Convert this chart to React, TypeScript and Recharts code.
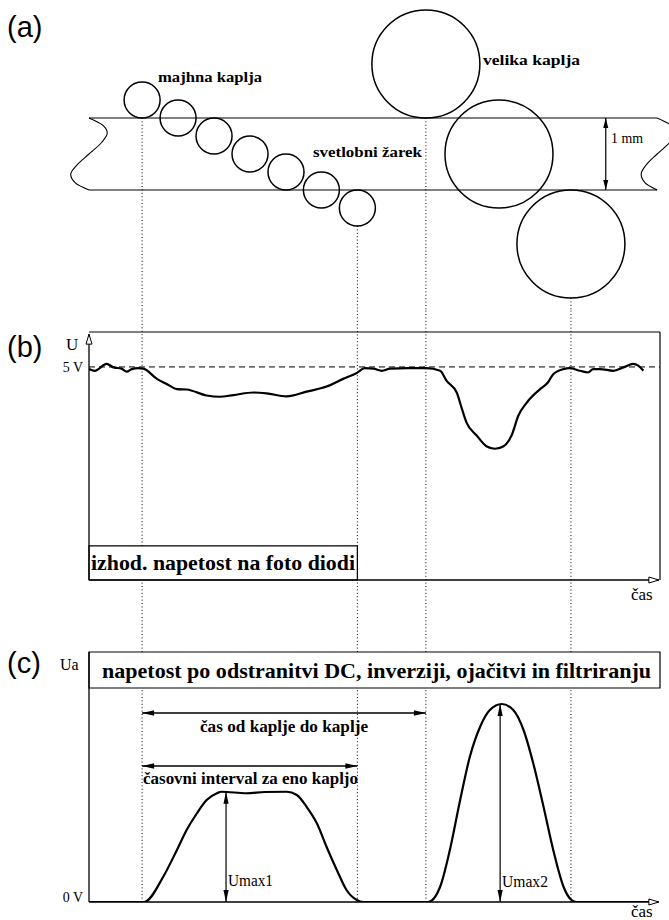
import React from "react";
import {
  ComposedChart,
  Line,
  Scatter,
  XAxis,
  YAxis,
  ReferenceLine,
  ReferenceArea,
} from "recharts";

const W = 669;
const PLOT_L = 89;
const PLOT_R = 9;
const PX_PER_T = (W - PLOT_L - PLOT_R) / 100;

// (a) drops: x = time units (0..100), y = mm across the light beam (0 = lower edge)
const smallDropT = [9.3, 15.6, 21.9, 28.2, 34.5, 40.7, 47.0];
const smallDropY = [1.25, 1.0, 0.75, 0.5, 0.25, 0, -0.25];
const bigDropT = [59.0, 71.8, 84.4];
const bigDropY = [1.75, 0.5, -0.75];
const SMALL_R = 0.25;
const BIG_R = 0.75;
const beamLeftT = [0, 2.4, 3.2, 2.2, 0, -2.2, -3.2, -2.4, 0];
const beamRightT = [99.5, 101.9, 102.7, 101.7, 99.5, 97.5, 96.7, 97.4, 99.5];
const beamEndY = [1, 0.9, 0.79, 0.66, 0.5, 0.34, 0.22, 0.1, 0];
const BEAM_END = 99.5;

// dotted marks: a drop touching / leaving the beam
const dropT = [9.3, 47.0, 59.0, 84.4];
const dropBottom = [1.0, -0.5, 1.0, -1.5];

// (b) photodiode output (V)
const diodeT = [0, 1.0, 3.1, 4.3, 5.7, 6.6, 7.5, 8.6, 9.5, 11.9, 13.6, 15.4, 17.1, 20.6, 22.9, 25.3, 28.8, 31.1, 34.6, 38.1, 41.6, 44.5, 46.9, 48.3, 49.8, 51.3, 52.7, 56.0, 59.1, 61.5, 62.6, 64.4, 65.3, 66.1, 67.9, 69.6, 71.1, 72.6, 74.0, 75.2, 76.7, 79.0, 80.4, 81.3, 83.1, 84.2, 86.0, 87.4, 88.3, 89.5, 91.8, 93.6, 95.3, 96.2, 97.1];
const diodeU = [4.95, 4.91, 5.07, 4.99, 4.96, 4.89, 4.95, 4.97, 4.96, 4.72, 4.6, 4.48, 4.47, 4.33, 4.3, 4.34, 4.4, 4.38, 4.31, 4.42, 4.54, 4.72, 4.86, 4.97, 4.96, 4.91, 4.96, 4.97, 4.97, 4.91, 4.68, 4.4, 4.02, 3.7, 3.39, 3.14, 3.08, 3.14, 3.39, 3.86, 4.17, 4.48, 4.64, 4.83, 4.95, 4.97, 4.91, 4.87, 4.95, 4.95, 4.91, 4.99, 5.07, 5.03, 4.91];

// (c) signal after DC removal, inversion, amplification, filtering
const filtT = [0, 9.3, 9.8, 13.0, 15.4, 17.1, 18.9, 20.6, 22.4, 23.2, 27.6, 30.8, 34.6, 36.4, 38.1, 39.9, 41.6, 43.4, 45.1, 46.9, 48.0, 59.4, 61.5, 63.2, 65.0, 66.7, 68.5, 70.2, 72.3, 74.3, 76.1, 77.8, 79.6, 81.3, 83.1, 84.5, 85.4, 98];
const filtU = [0, 0, 0.01, 1.01, 2.08, 2.88, 3.55, 4.08, 4.35, 4.41, 4.35, 4.4, 4.41, 4.28, 3.81, 3.15, 2.21, 1.28, 0.48, 0.08, 0, 0, 0.61, 2.08, 4.08, 5.81, 7.01, 7.68, 7.92, 7.68, 6.88, 5.55, 3.81, 2.08, 0.61, 0.08, 0, 0];
const intervalFrom = [9.3, 9.3];
const intervalTo = [59.0, 47.0];
const intervalLevel = [7.56, 5.44];
const umaxT = [24.0, 72.0];
const umaxV = [4.41, 7.92];

// panel sizes
const A_H = 310;
const A_PX_PER_MM = 72;
const A_BEAM_BOTTOM_PX = 190;
const B_H = 305;
const C_H = 305;
const B_TOP = 5.82;
const C_TOP = 10;
const C_BOX = 8.56;

const INK = "#000";
const SERIF = "'Liberation Serif', 'Times New Roman', serif";

const smallDrops = smallDropT.map((t, i) => ({ t, y: smallDropY[i] }));
const bigDrops = bigDropT.map((t, i) => ({ t, y: bigDropY[i] }));
const beamLeft = beamLeftT.map((t, i) => ({ t, y: beamEndY[i] }));
const beamRight = beamRightT.map((t, i) => ({ t, y: beamEndY[i] }));
const diode = diodeT.map((t, i) => ({ t, u: diodeU[i] }));
const filt = filtT.map((t, i) => ({ t, u: filtU[i] }));

function head(x: number, y: number, dx: number, dy: number, len: number, half: number) {
  const n = Math.hypot(dx, dy) || 1;
  const ux = dx / n;
  const uy = dy / n;
  const bx = x - ux * len;
  const by = y - uy * len;
  return `${x},${y} ${bx - uy * half},${by + ux * half} ${bx + uy * half},${by - ux * half}`;
}

const doubleArrow = (len: number, half: number, w: number) => (p: any) => (
  <g>
    <line x1={p.x1} y1={p.y1} x2={p.x2} y2={p.y2} stroke={INK} strokeWidth={w} />
    <polygon points={head(p.x1, p.y1, p.x1 - p.x2, p.y1 - p.y2, len, half)} fill={INK} />
    <polygon points={head(p.x2, p.y2, p.x2 - p.x1, p.y2 - p.y1, len, half)} fill={INK} />
  </g>
);

const axisArrow = (p: any) => (
  <g>
    <line x1={p.x1} y1={p.y1} x2={p.x2} y2={p.y2} stroke={INK} strokeWidth={1.3} />
    <polygon
      points={head(p.x2, p.y2, p.x2 - p.x1, p.y2 - p.y1, 10, 3)}
      fill="#fff"
      stroke={INK}
      strokeWidth={1}
    />
  </g>
);

const dropShape = (r: number) => (p: any) => (
  <circle cx={p.cx} cy={p.cy} r={r * A_PX_PER_MM} fill="none" stroke={INK} strokeWidth={1.5} />
);

const dotted = { stroke: INK, strokeWidth: 1, strokeDasharray: "1 2.4" };

function PanelA() {
  const tDomain = [-PLOT_L / PX_PER_T, 100 + PLOT_R / PX_PER_T];
  const yDomain = [-(A_H - A_BEAM_BOTTOM_PX) / A_PX_PER_MM, A_BEAM_BOTTOM_PX / A_PX_PER_MM];
  return (
    <ComposedChart width={W} height={A_H} margin={{ top: 0, right: 0, bottom: 0, left: 0 }}>
      <XAxis type="number" dataKey="t" domain={tDomain} allowDataOverflow hide />
      <YAxis type="number" domain={yDomain} allowDataOverflow hide />
      <ReferenceLine segment={[{ x: 0, y: 1 }, { x: BEAM_END, y: 1 }]} stroke={INK} strokeWidth={1.1} />
      <ReferenceLine segment={[{ x: 0, y: 0 }, { x: BEAM_END, y: 0 }]} stroke={INK} strokeWidth={1.1} />
      {dropT.map((t, i) => (
        <ReferenceLine
          key={t}
          segment={[{ x: t, y: dropBottom[i] }, { x: t, y: yDomain[0] }]}
          {...dotted}
        />
      ))}
      <ReferenceLine
        segment={[{ x: 90.5, y: 0 }, { x: 90.5, y: 1 }]}
        shape={doubleArrow(10, 2.5, 1.2)}
      />
      <Line data={beamLeft} dataKey="y" type="monotoneY" stroke={INK} strokeWidth={1.1} dot={false} activeDot={false} isAnimationActive={false} />
      <Line data={beamRight} dataKey="y" type="monotoneY" stroke={INK} strokeWidth={1.1} dot={false} activeDot={false} isAnimationActive={false} />
      <Scatter data={smallDrops} dataKey="y" shape={dropShape(SMALL_R)} isAnimationActive={false} />
      <Scatter data={bigDrops} dataKey="y" shape={dropShape(BIG_R)} isAnimationActive={false} />
    </ComposedChart>
  );
}

function PanelB() {
  return (
    <ComposedChart width={W} height={B_H} margin={{ top: 22, right: PLOT_R, bottom: 35, left: PLOT_L - 40 }}>
      <XAxis type="number" dataKey="t" domain={[0, 100]} allowDataOverflow hide />
      <YAxis
        type="number"
        domain={[0, B_TOP]}
        allowDataOverflow
        width={40}
        ticks={[5]}
        tickFormatter={() => "5 V"}
        axisLine={false}
        tickLine={false}
        tickSize={0}
        tickMargin={6}
        tick={{ fill: INK, fontSize: 14, fontFamily: SERIF }}
      />
      <ReferenceArea x1={0} x2={47} y1={0} y2={0.8} fill="#fff" fillOpacity={1} stroke={INK} strokeWidth={1.2} />
      {dropT.map((t, i) =>
        i === 0 ? (
          <React.Fragment key={t}>
            <ReferenceLine segment={[{ x: t, y: 0.8 }, { x: t, y: 8 }]} ifOverflow="visible" {...dotted} />
            <ReferenceLine segment={[{ x: t, y: -2 }, { x: t, y: 0 }]} ifOverflow="visible" {...dotted} />
          </React.Fragment>
        ) : (
          <ReferenceLine key={t} segment={[{ x: t, y: -2 }, { x: t, y: 8 }]} ifOverflow="visible" {...dotted} />
        )
      )}
      <ReferenceLine y={5} stroke={INK} strokeWidth={1} strokeDasharray="6 4" />
      <ReferenceLine y={B_TOP} stroke={INK} strokeWidth={1.2} />
      <ReferenceLine x={100} stroke={INK} strokeWidth={1.2} />
      <ReferenceLine segment={[{ x: 0, y: 0 }, { x: 0, y: B_TOP - 0.05 }]} shape={axisArrow} />
      <ReferenceLine segment={[{ x: 0, y: 0 }, { x: 99.8, y: 0 }]} shape={axisArrow} />
      <Line data={diode} dataKey="u" type="monotone" stroke={INK} strokeWidth={2.2} dot={false} activeDot={false} isAnimationActive={false} />
    </ComposedChart>
  );
}

function PanelC() {
  return (
    <ComposedChart width={W} height={C_H} margin={{ top: 37, right: PLOT_R, bottom: 18, left: PLOT_L - 40 }}>
      <XAxis type="number" dataKey="t" domain={[0, 100]} allowDataOverflow hide />
      <YAxis
        type="number"
        domain={[0, C_TOP]}
        allowDataOverflow
        width={40}
        ticks={[0]}
        tickFormatter={() => "0 V"}
        axisLine={false}
        tickLine={false}
        tickSize={0}
        tickMargin={6}
        tick={{ fill: INK, fontSize: 14, fontFamily: SERIF, dy: -5 }}
      />
      {dropT.map((t) => (
        <React.Fragment key={t}>
          <ReferenceLine segment={[{ x: t, y: C_TOP }, { x: t, y: 14 }]} ifOverflow="visible" {...dotted} />
          <ReferenceLine segment={[{ x: t, y: 0 }, { x: t, y: C_BOX }]} ifOverflow="visible" {...dotted} />
        </React.Fragment>
      ))}
      <ReferenceLine segment={[{ x: 0, y: 0 }, { x: 0, y: C_TOP }]} stroke={INK} strokeWidth={1.3} />
      <ReferenceLine segment={[{ x: 0, y: 0 }, { x: 99.8, y: 0 }]} shape={axisArrow} />
      <ReferenceArea x1={0} x2={100} y1={C_BOX} y2={C_TOP} fill="#fff" fillOpacity={1} stroke={INK} strokeWidth={1.2} />
      {intervalFrom.map((t, i) => (
        <ReferenceLine
          key={i}
          segment={[{ x: t, y: intervalLevel[i] }, { x: intervalTo[i], y: intervalLevel[i] }]}
          shape={doubleArrow(12, 2.8, 1.5)}
        />
      ))}
      {umaxT.map((t, i) => (
        <ReferenceLine
          key={t}
          segment={[{ x: t, y: 0 }, { x: t, y: umaxV[i] }]}
          shape={doubleArrow(12, 2.6, 1.2)}
        />
      ))}
      <Line data={filt} dataKey="u" type="monotone" stroke={INK} strokeWidth={2.2} dot={false} activeDot={false} isAnimationActive={false} />
    </ComposedChart>
  );
}

export default function App() {
  const serif = { fontFamily: SERIF, fill: INK } as const;
  const fit = { lengthAdjust: "spacingAndGlyphs" } as const;
  const sans = { fontFamily: "'Liberation Sans', Arial, sans-serif", fill: INK, fontSize: 29 } as const;
  return (
    <div style={{ position: "absolute", left: 0, top: 0, width: W, height: 920, background: "#fff", overflow: "hidden" }}>
      <div style={{ position: "absolute", left: 0, top: 0, overflow: "hidden" }}>
        <PanelA />
      </div>
      <div style={{ position: "absolute", left: 0, top: A_H, overflow: "hidden" }}>
        <PanelB />
      </div>
      <div style={{ position: "absolute", left: 0, top: A_H + B_H, overflow: "hidden" }}>
        <PanelC />
      </div>
      <svg width={W} height={920} style={{ position: "absolute", left: 0, top: 0, pointerEvents: "none" }}>
        <text x={7} y={37} {...sans}>(a)</text>
        <text x={7} y={357} {...sans}>(b)</text>
        <text x={7} y={673} {...sans}>(c)</text>

        <text x={158} y={82} fontSize={15} fontWeight="bold" textLength={104} {...fit} {...serif}>majhna kaplja</text>
        <text x={483} y={65} fontSize={15} fontWeight="bold" textLength={97} {...fit} {...serif}>velika kaplja</text>
        <text x={313} y={157} fontSize={15} fontWeight="bold" textLength={109} {...fit} {...serif}>svetlobni žarek</text>
        <text x={611} y={143} fontSize={14} textLength={32} {...fit} {...serif}>1 mm</text>

        <text x={66} y={350} fontSize={17} {...serif}>U</text>
        <text x={631} y={600} fontSize={17} {...serif}>čas</text>
        <text x={91} y={570} fontSize={20} fontWeight="bold" textLength={264} {...fit} {...serif}>
          izhod. napetost na foto diodi
        </text>

        <text x={60} y={670} fontSize={16} {...serif}>Ua</text>
        <text x={102} y={678} fontSize={22} fontWeight="bold" textLength={549} {...fit} {...serif}>
          napetost po odstranitvi DC, inverziji, ojačitvi in filtriranju
        </text>
        <text x={200} y={732} fontSize={16} fontWeight="bold" textLength={168} {...fit} {...serif}>čas od kaplje do kaplje</text>
        <text x={143} y={784} fontSize={16} fontWeight="bold" textLength={215} {...fit} {...serif}>časovni interval za eno kapljo</text>
        <text x={228} y={886} fontSize={16} textLength={45} {...fit} {...serif}>Umax1</text>
        <text x={502} y={887} fontSize={16} textLength={46} {...fit} {...serif}>Umax2</text>
        <text x={631} y={917} fontSize={17} {...serif}>čas</text>
      </svg>
    </div>
  );
}
